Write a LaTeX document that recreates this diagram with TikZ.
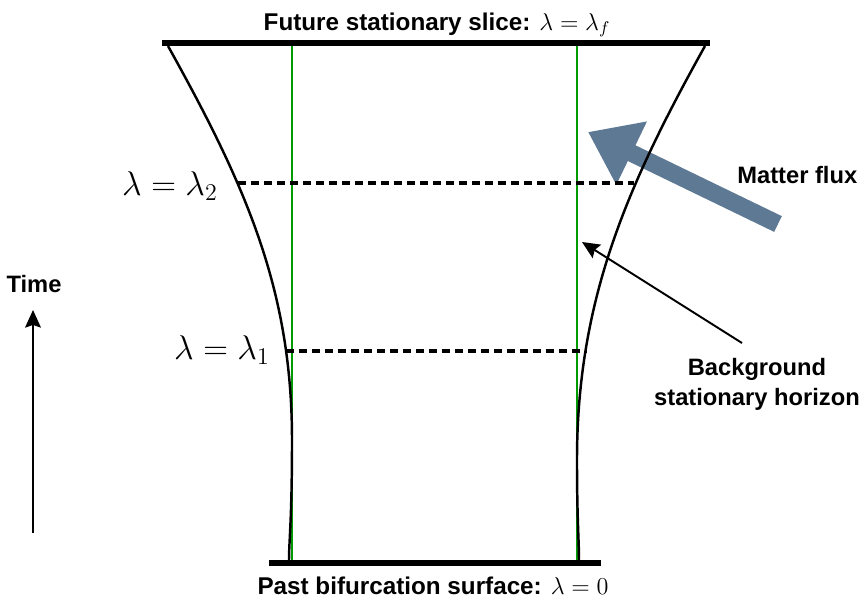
\RequirePackage{fix-cm}
\documentclass[tikz,border=0pt]{standalone}
\usepackage{fontspec}
\setmainfont{Liberation Sans}
\usetikzlibrary{arrows.meta, positioning, calc}
\definecolor{fluxblue}{RGB}{94,121,148}
\definecolor{horizongreen}{RGB}{0,155,0}
\tikzstyle{slice} = [line width=0.13cm]
\tikzstyle{boundary} = [line width=1.4pt]
\tikzstyle{levelline} = [line width=2pt, dash pattern=on 0.16cm off 0.1cm]
\tikzstyle{horizon} = [horizongreen, line width=0.6pt]
\tikzstyle{arrow} = [line width=1.1pt, -{Stealth[length=10pt,width=9pt,inset=1.5pt]}]
\tikzstyle{flux} = [fluxblue, line width=0.35cm, -{Triangle[length=0.97cm,width=1.34cm]}]
\tikzstyle{levellabel} = [anchor=base east, font=\fontsize{19.5}{23}\selectfont]

\begin{document}
\begin{tikzpicture}[x=0.02cm, y=-0.02cm,
    every node/.style={inner sep=0pt, font=\fontsize{13.5}{17}\selectfont\bfseries}]
    \useasboundingbox (0,0) rectangle (867,606);
    % slices
    \coordinate (futureL) at (162,43);
    \coordinate (futureR) at (710,43);
    \coordinate (pastL) at (269,563);
    \coordinate (pastR) at (601,563);
    \draw[slice] (futureL) -- (futureR);
    \draw[slice] (pastL) -- (pastR);
    \node[anchor=base, font=\fontsize{13.8}{17}\selectfont\bfseries] (future) at (437,30)
        {Future stationary slice: $\lambda=\lambda_f$};
    \node[anchor=base, font=\fontsize{13.8}{17}\selectfont\bfseries] (past) at (433,594)
        {Past bifurcation surface: $\lambda=0$};
    % background horizon
    \draw[horizon] (292,46) -- (292,560);
    \draw[horizon] (577,46) -- (577,560);
    % matter flux
    \coordinate (fluxtail) at (778,224);
    \coordinate (fluxtip) at (588,132);
    \draw[flux] (fluxtail) -- (fluxtip);
    \node[anchor=base west] (matter) at (737,183) {Matter flux};
    % perturbed horizon
    \draw[boundary] (168,46) .. controls (246,186) and (292,290) .. (292,440)
        .. controls (292,520) and (289,540) .. (289,561);
    \draw[boundary] (705,46) .. controls (627,186) and (577,300) .. (577,460)
        .. controls (577,520) and (579,540) .. (579,561);
    % lambda levels
    \draw[levelline] (238,183) -- (634,183);
    \draw[levelline] (286,351) -- (587,351);
    \node[levellabel] (lam2) at (218,195) {$\lambda=\lambda_2$};
    \node[levellabel] (lam1) at (270,359) {$\lambda=\lambda_1$};
    % labels
    \node[anchor=north, align=center] (bg) at (757,358) {Background\\stationary horizon};
    \coordinate (bgfrom) at (742,343);
    \coordinate (bgto) at (582,242);
    \draw[arrow] (bgfrom) -- (bgto);
    \node[anchor=base] (time) at (34,292) {Time};
    \coordinate (tbottom) at (33,533);
    \coordinate (ttop) at (33,310);
    \draw[arrow] (tbottom) -- (ttop);
\end{tikzpicture}
\end{document}
